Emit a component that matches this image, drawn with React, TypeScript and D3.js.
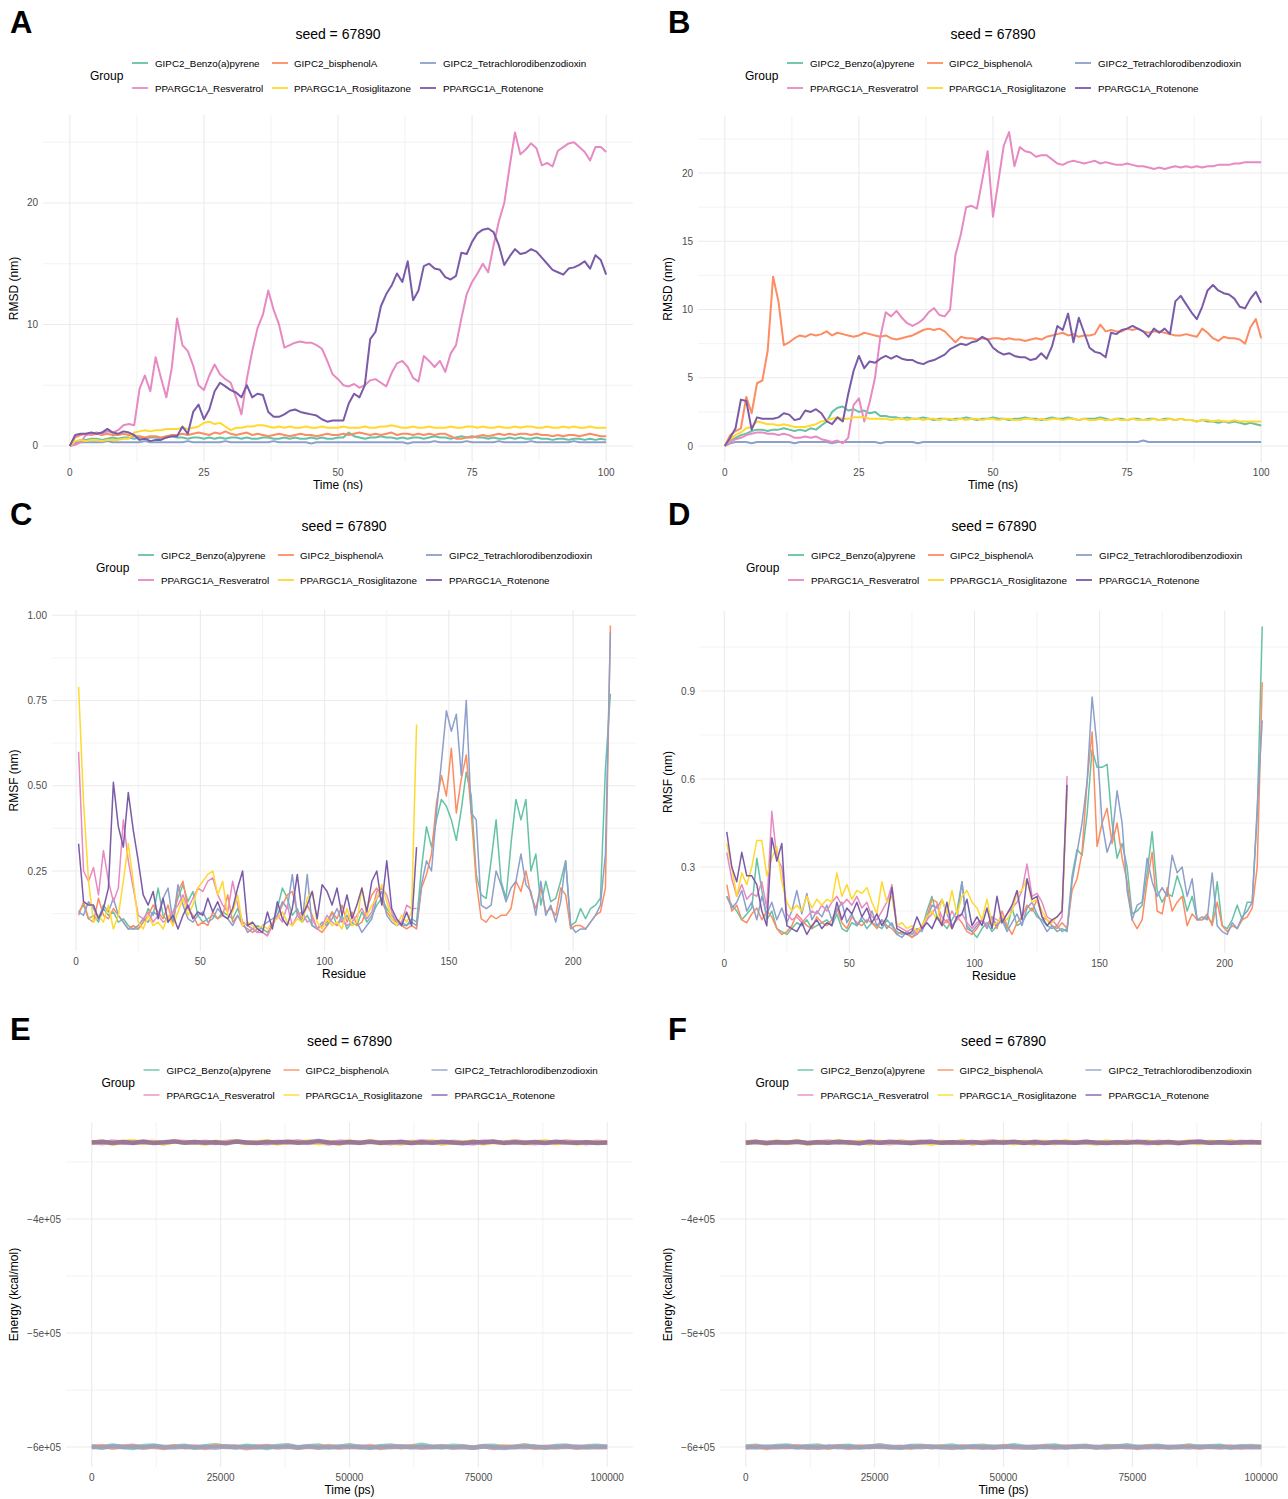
import React from "react";
import * as d3 from "d3";

const GROUPS = [
  "GIPC2_Benzo(a)pyrene",
  "GIPC2_bisphenolA",
  "GIPC2_Tetrachlorodibenzodioxin",
  "PPARGC1A_Resveratrol",
  "PPARGC1A_Rosiglitazone",
  "PPARGC1A_Rotenone",
];
const COLORS = ["#66C2A5", "#FC8D62", "#8DA0CB", "#E78AC3", "#FFD92F", "#7A5BA8"];

// sampling grids
const timeNs = d3.range(0, 101); // 1 ns step
const resGIPC2 = d3.range(1, 216, 2);
const resPPARG = d3.range(1, 138, 2);
const timePs = d3.range(0, 100001, 2000);

// ---------- panel A: RMSD ----------
const rmsdA_benzo = [
  0.0,0.3,0.5,0.5,0.6,0.6,0.5,0.6,0.7,0.6, 0.7,0.7,0.6,0.7,0.6,0.7,0.7,0.6,0.7,0.8,
  0.7,0.7,0.6,0.7,0.7,0.6,0.7,0.6,0.7,0.6, 0.7,0.7,0.6,0.7,0.6,0.6,0.7,0.7,0.6,0.6,
  0.7,0.6,0.7,0.6,0.6,0.7,0.6,0.7,0.6,0.6, 0.7,0.7,1.1,0.8,0.7,0.6,0.7,0.7,0.8,0.7,
  0.7,0.6,0.7,0.6,0.7,0.7,0.6,0.7,0.8,0.7, 0.7,0.6,0.7,0.8,0.7,0.8,0.7,0.7,0.6,0.7,
  0.6,0.6,0.7,0.6,0.7,0.6,0.6,0.7,0.6,0.6, 0.5,0.6,0.6,0.5,0.6,0.6,0.5,0.6,0.5,0.6,
  0.5,
];
const rmsdA_bisphenol = [
  0.0,0.7,0.9,1.0,0.9,1.0,0.9,1.0,0.9,0.9, 1.0,0.9,0.8,0.8,0.7,0.8,0.8,0.7,0.8,0.9,
  0.9,1.0,0.9,1.0,1.1,1.0,0.9,1.1,1.0,1.2, 1.0,0.9,1.0,1.1,0.9,1.0,0.9,0.8,0.9,1.0,
  0.9,0.8,0.9,1.0,0.9,0.9,0.8,0.9,1.0,0.9, 0.9,1.0,0.9,1.0,1.1,1.0,0.9,1.0,0.9,1.0,
  1.1,0.9,1.0,1.0,0.9,1.0,0.9,1.0,0.9,1.0, 1.0,0.8,0.6,0.6,0.7,0.7,0.8,0.9,0.8,0.9,
  1.0,0.9,1.0,0.9,1.0,1.0,0.9,1.0,0.9,0.9, 0.8,0.9,0.8,0.9,0.9,0.8,0.9,1.0,0.9,0.8,
  0.8,
];
const rmsdA_tetra = [
  0.0,0.2,0.3,0.3,0.3,0.3,0.3,0.4,0.3,0.3, 0.3,0.3,0.3,0.3,0.4,0.3,0.3,0.3,0.3,0.3,
  0.3,0.3,0.4,0.3,0.3,0.3,0.3,0.3,0.3,0.4, 0.3,0.3,0.3,0.3,0.3,0.3,0.3,0.3,0.4,0.3,
  0.3,0.3,0.3,0.3,0.3,0.2,0.3,0.3,0.3,0.3, 0.3,0.3,0.3,0.3,0.3,0.3,0.3,0.3,0.3,0.3,
  0.3,0.3,0.3,0.2,0.3,0.3,0.3,0.3,0.4,0.3, 0.3,0.3,0.3,0.3,0.4,0.3,0.3,0.3,0.3,0.3,
  0.4,0.3,0.3,0.3,0.3,0.3,0.4,0.3,0.3,0.3, 0.3,0.3,0.3,0.3,0.4,0.3,0.3,0.3,0.3,0.3,
  0.3,
];
const rmsdA_resveratrol = [
  0.0,0.1,0.3,0.9,1.0,1.1,1.0,1.2,1.1,1.3, 1.7,1.8,1.7,4.7,5.8,4.5,7.3,5.6,4.0,6.4,
  10.5,8.3,7.8,6.6,5.0,4.6,5.8,6.7,5.9,5.5, 5.2,4.0,2.6,5.5,7.8,9.7,10.8,12.8,11.2,10.0,
  8.1,8.3,8.5,8.6,8.5,8.5,8.3,8.0,7.0,5.9, 5.5,5.0,4.9,5.1,4.8,5.0,5.4,5.5,5.2,4.9,
  6.0,6.8,7.0,6.5,5.6,5.3,7.4,7.0,6.5,7.0, 6.1,7.6,8.3,10.5,12.5,13.5,14.2,15.0,14.3,16.5,
  18.5,20.0,23.0,25.8,24.0,24.4,24.9,24.5,23.1,23.3, 23.0,24.3,24.6,24.9,25.0,24.6,24.2,23.5,24.6,24.6,
  24.2,
];
const rmsdA_rosiglitazone = [
  0.0,0.4,0.5,0.4,0.5,0.5,0.4,0.5,0.5,0.5, 0.6,0.6,1.1,1.2,1.3,1.2,1.3,1.3,1.4,1.4,
  1.4,1.5,1.4,1.5,1.6,1.9,2.0,1.8,1.9,1.6, 1.3,1.5,1.5,1.6,1.6,1.7,1.7,1.6,1.5,1.6,
  1.5,1.6,1.5,1.5,1.6,1.5,1.5,1.6,1.5,1.5, 1.5,1.6,1.5,1.5,1.5,1.6,1.5,1.5,1.6,1.6,
  1.7,1.6,1.5,1.5,1.6,1.5,1.5,1.6,1.5,1.5, 1.5,1.6,1.5,1.5,1.6,1.6,1.5,1.6,1.5,1.5,
  1.6,1.5,1.5,1.6,1.5,1.6,1.6,1.5,1.5,1.6, 1.5,1.5,1.6,1.5,1.6,1.5,1.5,1.6,1.5,1.5,
  1.5,
];
const rmsdA_rotenone = [
  0.0,0.9,1.0,1.0,1.1,1.0,1.1,1.4,1.1,1.0, 1.2,1.1,0.9,0.5,0.6,0.4,0.5,0.5,0.7,0.8,
  0.8,1.6,1.0,2.8,3.4,2.2,3.0,4.5,5.2,4.9, 4.6,4.4,4.0,5.0,4.0,4.3,4.2,2.8,2.4,2.4,
  2.6,2.9,3.0,2.8,2.7,2.6,2.5,2.2,2.0,2.1, 2.1,2.1,3.5,4.3,4.0,5.0,8.8,9.4,11.5,12.5,
  13.2,14.2,13.5,15.2,12.0,12.8,14.8,15.0,14.6,14.5, 13.9,13.7,14.0,15.9,15.8,16.8,17.5,17.8,17.9,17.6,
  16.5,14.9,15.6,16.2,15.8,15.9,16.2,16.0,15.5,15.0, 14.5,14.3,14.1,14.6,14.7,14.9,15.2,14.6,15.7,15.3,
  14.1,
];

// ---------- panel B: RMSD ----------
const rmsdB_benzo = [
  0.0,0.4,0.6,0.8,0.9,1.1,1.2,1.2,1.1,1.2, 1.2,1.3,1.2,1.1,1.2,1.1,1.3,1.2,1.5,1.8,
  2.5,2.8,2.9,2.6,2.7,2.5,2.6,2.4,2.5,2.2, 2.2,2.1,2.1,2.0,2.1,2.0,2.0,2.1,2.0,1.9,
  2.0,2.0,1.9,2.0,2.0,2.1,2.0,1.9,2.0,2.0, 2.1,2.0,2.0,1.9,2.0,2.0,2.1,2.0,2.0,1.9,
  2.0,2.1,2.0,2.0,2.1,2.0,1.9,2.0,2.0,2.0, 2.1,2.0,1.9,2.0,2.0,1.9,2.0,2.0,1.9,2.0,
  2.0,1.9,2.0,2.0,1.9,2.0,1.9,1.9,1.8,1.9, 1.8,1.8,1.7,1.8,1.7,1.8,1.7,1.6,1.7,1.6,
  1.5,
];
const rmsdB_bisphenol = [
  0.0,0.8,1.1,1.3,3.6,2.4,4.6,4.8,7.0,12.4, 10.6,7.4,7.6,7.9,8.1,8.0,8.2,8.1,8.2,8.4,
  8.1,8.3,8.2,8.1,8.0,8.1,8.3,8.2,8.1,8.0, 8.1,7.9,7.8,7.9,8.0,8.1,8.3,8.5,8.6,8.5,
  8.6,8.4,8.0,7.6,8.0,7.9,7.9,7.8,7.9,7.8, 7.9,7.9,7.8,7.9,7.8,7.8,7.7,7.8,7.9,7.8,
  8.0,8.1,8.2,8.3,8.1,8.2,8.0,8.1,8.1,8.2, 8.9,8.4,8.5,8.4,8.4,8.6,8.5,8.6,8.4,8.3,
  8.4,8.4,8.3,8.2,8.1,8.1,8.2,8.1,8.0,8.6, 8.3,7.9,7.7,8.0,7.9,7.9,7.8,7.5,8.7,9.3,
  7.9,
];
const rmsdB_tetra = [
  0.0,0.2,0.3,0.3,0.3,0.2,0.3,0.3,0.3,0.3, 0.3,0.3,0.3,0.2,0.3,0.3,0.3,0.3,0.3,0.3,
  0.2,0.3,0.3,0.3,0.3,0.3,0.3,0.3,0.3,0.2, 0.3,0.3,0.3,0.3,0.3,0.3,0.2,0.3,0.3,0.3,
  0.3,0.3,0.3,0.3,0.3,0.3,0.3,0.3,0.3,0.3, 0.3,0.3,0.3,0.3,0.3,0.3,0.3,0.3,0.3,0.3,
  0.3,0.3,0.3,0.3,0.3,0.3,0.3,0.3,0.3,0.3, 0.3,0.3,0.3,0.3,0.3,0.3,0.3,0.3,0.4,0.3,
  0.3,0.3,0.3,0.3,0.3,0.3,0.3,0.3,0.3,0.3, 0.3,0.3,0.3,0.3,0.3,0.3,0.3,0.3,0.3,0.3,
  0.3,
];
const rmsdB_resveratrol = [
  0.0,0.3,0.5,0.6,0.8,0.9,1.0,1.0,0.9,0.9, 0.8,0.9,0.8,0.6,0.6,0.7,0.6,0.7,0.5,0.4,
  0.3,0.4,0.2,0.6,3.0,3.5,1.8,3.2,5.0,8.0, 9.8,9.5,9.9,9.4,9.0,8.8,9.0,9.3,9.8,10.1,
  9.6,9.5,10.0,14.0,15.5,17.5,17.6,17.4,19.5,21.6, 16.8,19.4,22.0,23.0,20.5,21.9,21.6,21.5,21.2,21.3,
  21.3,21.0,20.7,20.6,20.8,20.9,20.8,20.7,20.8,20.9, 20.7,20.8,20.7,20.6,20.6,20.7,20.6,20.5,20.5,20.4,
  20.3,20.4,20.3,20.4,20.5,20.4,20.5,20.4,20.5,20.4, 20.5,20.5,20.6,20.6,20.6,20.7,20.7,20.8,20.8,20.8,
  20.8,
];
const rmsdB_rosiglitazone = [
  0.0,0.5,0.8,1.0,1.3,1.4,1.8,1.7,1.6,1.6, 1.5,1.6,1.5,1.4,1.4,1.4,1.5,1.6,1.8,1.9,
  2.0,2.1,2.0,2.0,2.1,2.1,2.1,2.0,2.0,2.0, 2.0,1.9,2.0,2.0,1.9,2.0,2.0,1.9,2.0,2.0,
  1.9,2.0,2.0,1.9,2.0,1.9,2.0,2.0,1.9,2.0, 2.0,1.9,2.0,2.0,1.9,1.9,2.0,2.0,1.9,2.0,
  1.9,2.0,2.0,1.9,2.0,2.0,1.9,2.0,1.9,1.9, 2.0,1.9,1.9,2.0,1.9,1.9,2.0,1.9,1.9,1.9,
  2.0,1.9,1.9,2.0,1.9,2.0,1.9,1.9,1.8,1.9, 1.9,1.8,1.9,1.8,1.8,1.9,1.8,1.8,1.8,1.8,
  1.8,
];
const rmsdB_rotenone = [
  0.0,0.6,1.3,3.4,3.3,1.2,2.1,2.0,2.0,2.0, 2.1,2.4,2.3,1.9,2.0,2.6,2.5,2.7,2.4,1.8,
  1.6,2.1,1.8,3.8,5.5,6.6,5.7,6.2,6.1,6.4, 6.6,6.4,6.6,6.4,6.3,6.3,6.1,6.0,6.2,6.3,
  6.5,6.7,7.1,7.3,7.5,7.4,7.6,7.7,8.0,7.8, 7.2,6.9,6.7,6.8,6.6,6.5,6.5,6.3,6.4,6.8,
  6.4,7.3,8.8,8.5,9.7,7.6,9.4,8.3,7.2,6.9, 6.8,6.5,8.3,8.2,8.5,8.6,8.8,8.6,8.4,8.0,
  8.6,8.3,8.6,8.2,10.6,11.0,10.4,9.8,9.3,10.2, 11.4,11.8,11.4,11.2,11.1,10.8,10.2,10.1,10.8,11.3,
  10.5,
];

// ---------- panel C: RMSF ----------
const rmsfC_benzo = [
  0.13,0.15,0.11,0.12,0.10,0.14,0.12,0.13,0.10,0.11,0.09,0.08,0.08,0.10,0.14,0.12,0.20,0.12,0.10,0.13,
  0.17,0.21,0.16,0.19,0.12,0.10,0.11,0.12,0.11,0.13,0.12,0.11,0.14,0.10,0.09,0.08,0.09,0.08,0.07,0.09,
  0.14,0.20,0.17,0.12,0.14,0.10,0.12,0.09,0.08,0.09,0.10,0.13,0.09,0.12,0.08,0.10,0.09,0.13,0.10,0.12,
  0.15,0.17,0.14,0.12,0.10,0.09,0.09,0.11,0.10,0.26,
  0.38,0.32,0.40,0.46,0.44,0.40,0.34,0.43,0.54,0.47,0.24,0.18,0.17,0.28,0.40,0.22,0.17,0.33,0.46,0.40,
  0.46,0.25,0.30,0.15,0.22,0.16,0.17,0.22,0.28,0.09,0.10,0.14,0.11,0.14,0.15,0.17,0.55,0.77,
];
const rmsfC_bisphenol = [
  0.12,0.16,0.11,0.10,0.17,0.12,0.11,0.14,0.12,0.10,0.08,0.09,0.08,0.10,0.12,0.15,0.13,0.11,0.15,0.09,
  0.19,0.22,0.14,0.12,0.09,0.10,0.09,0.13,0.11,0.12,0.18,0.10,0.12,0.09,0.08,0.07,0.08,0.07,0.06,0.10,
  0.12,0.15,0.18,0.19,0.13,0.11,0.15,0.12,0.08,0.07,0.09,0.13,0.11,0.15,0.10,0.13,0.09,0.10,0.14,0.18,
  0.20,0.16,0.13,0.11,0.10,0.09,0.08,0.09,0.08,0.20,
  0.24,0.30,0.45,0.53,0.47,0.61,0.42,0.52,0.59,0.42,0.22,0.11,0.10,0.12,0.11,0.12,0.12,0.14,0.22,0.19,
  0.25,0.18,0.14,0.20,0.13,0.14,0.12,0.20,0.18,0.08,0.09,0.09,0.08,0.10,0.12,0.13,0.20,0.97,
];
const rmsfC_tetra = [
  0.13,0.12,0.16,0.14,0.11,0.15,0.13,0.17,0.12,0.10,0.08,0.08,0.09,0.11,0.10,0.13,0.12,0.17,0.20,0.10,
  0.21,0.15,0.11,0.10,0.12,0.13,0.10,0.11,0.14,0.12,0.11,0.09,0.12,0.10,0.07,0.08,0.07,0.09,0.10,0.11,
  0.12,0.16,0.14,0.24,0.12,0.10,0.24,0.09,0.08,0.10,0.09,0.11,0.14,0.10,0.12,0.09,0.10,0.07,0.09,0.11,
  0.17,0.19,0.12,0.10,0.09,0.10,0.09,0.10,0.09,0.21,
  0.28,0.25,0.42,0.57,0.72,0.66,0.71,0.53,0.75,0.42,0.40,0.15,0.14,0.15,0.25,0.21,0.16,0.20,0.22,0.30,
  0.21,0.19,0.12,0.22,0.12,0.15,0.10,0.16,0.28,0.09,0.07,0.08,0.08,0.10,0.12,0.15,0.30,0.95,
];
const rmsfC_resveratrol = [
  0.60,0.25,0.22,0.26,0.18,0.31,0.22,0.16,0.20,0.40,0.28,0.20,0.12,0.11,0.13,0.10,0.12,0.10,0.11,0.13,
  0.15,0.18,0.14,0.17,0.20,0.19,0.22,0.23,0.18,0.15,0.13,0.22,0.15,0.10,0.09,0.08,0.07,0.07,0.06,0.09,
  0.12,0.10,0.15,0.09,0.12,0.13,0.10,0.11,0.08,0.09,0.12,0.10,0.09,0.11,0.09,0.10,0.12,0.14,0.11,0.13,
  0.19,0.20,0.18,0.13,0.10,0.10,0.15,0.14,0.14,
];
const rmsfC_rosiglitazone = [
  0.79,0.45,0.22,0.10,0.12,0.10,0.15,0.08,0.12,0.22,0.33,0.22,0.10,0.08,0.12,0.09,0.10,0.08,0.12,0.09,
  0.13,0.17,0.12,0.15,0.20,0.22,0.24,0.25,0.18,0.22,0.12,0.13,0.18,0.09,0.10,0.09,0.08,0.09,0.08,0.10,
  0.11,0.13,0.10,0.09,0.11,0.10,0.17,0.19,0.10,0.08,0.11,0.09,0.10,0.08,0.14,0.09,0.10,0.20,0.12,0.15,
  0.17,0.21,0.16,0.11,0.09,0.12,0.10,0.13,0.68,
];
const rmsfC_rotenone = [
  0.33,0.16,0.15,0.15,0.11,0.14,0.20,0.51,0.38,0.32,0.48,0.37,0.28,0.18,0.15,0.19,0.11,0.17,0.10,0.12,
  0.08,0.12,0.15,0.11,0.13,0.12,0.17,0.13,0.16,0.12,0.11,0.14,0.20,0.25,0.09,0.10,0.08,0.07,0.13,0.08,
  0.16,0.11,0.09,0.14,0.24,0.12,0.15,0.19,0.11,0.21,0.19,0.15,0.20,0.12,0.18,0.11,0.15,0.20,0.13,0.22,
  0.25,0.15,0.28,0.14,0.11,0.09,0.13,0.09,0.32,
];

// ---------- panel D: RMSF ----------
const rmsfD_benzo = [
  0.20,0.17,0.15,0.12,0.14,0.16,0.33,0.22,0.12,0.15,0.09,0.08,0.07,0.09,0.11,0.10,0.12,0.09,0.10,0.11,
  0.12,0.10,0.14,0.09,0.08,0.11,0.10,0.12,0.09,0.11,0.10,0.09,0.12,0.10,0.08,0.07,0.08,0.06,0.07,0.09,
  0.15,0.20,0.13,0.11,0.09,0.12,0.15,0.25,0.10,0.08,0.06,0.09,0.11,0.08,0.10,0.13,0.09,0.16,0.10,0.11,
  0.14,0.16,0.13,0.12,0.10,0.09,0.10,0.08,0.09,0.27,
  0.36,0.34,0.48,0.70,0.64,0.64,0.65,0.45,0.33,0.38,0.30,0.14,0.15,0.17,0.28,0.42,0.22,0.18,0.21,0.20,
  0.27,0.22,0.15,0.20,0.12,0.12,0.13,0.11,0.25,0.10,0.09,0.12,0.17,0.12,0.18,0.18,0.48,1.12,
];
const rmsfD_bisphenol = [
  0.24,0.15,0.17,0.12,0.11,0.14,0.16,0.12,0.15,0.13,0.09,0.07,0.08,0.10,0.14,0.12,0.10,0.09,0.13,0.11,
  0.10,0.12,0.16,0.11,0.09,0.13,0.11,0.10,0.12,0.11,0.09,0.12,0.10,0.09,0.07,0.08,0.07,0.06,0.08,0.10,
  0.13,0.19,0.18,0.10,0.12,0.09,0.13,0.11,0.08,0.07,0.09,0.12,0.10,0.13,0.09,0.15,0.10,0.07,0.11,0.13,
  0.17,0.15,0.19,0.13,0.12,0.10,0.09,0.11,0.09,0.22,
  0.26,0.35,0.59,0.76,0.37,0.45,0.50,0.38,0.45,0.33,0.25,0.12,0.09,0.12,0.25,0.35,0.15,0.14,0.23,0.15,
  0.18,0.20,0.10,0.14,0.12,0.12,0.14,0.10,0.18,0.10,0.08,0.10,0.09,0.12,0.13,0.16,0.30,0.93,
];
const rmsfD_tetra = [
  0.20,0.16,0.18,0.22,0.15,0.18,0.12,0.20,0.14,0.18,0.12,0.16,0.11,0.15,0.22,0.14,0.21,0.12,0.15,0.13,
  0.17,0.12,0.15,0.18,0.11,0.14,0.10,0.13,0.11,0.15,0.10,0.12,0.09,0.11,0.07,0.06,0.08,0.07,0.09,0.08,
  0.12,0.17,0.16,0.19,0.14,0.10,0.12,0.25,0.09,0.08,0.10,0.12,0.09,0.13,0.10,0.12,0.08,0.11,0.14,0.10,
  0.16,0.18,0.14,0.11,0.08,0.10,0.08,0.09,0.08,0.25,
  0.35,0.45,0.59,0.88,0.71,0.45,0.35,0.40,0.56,0.45,0.22,0.12,0.17,0.18,0.33,0.25,0.20,0.23,0.20,0.34,
  0.28,0.30,0.20,0.26,0.12,0.13,0.12,0.28,0.10,0.08,0.07,0.11,0.09,0.13,0.15,0.18,0.50,0.80,
];
const rmsfD_resveratrol = [
  0.35,0.26,0.20,0.24,0.19,0.21,0.20,0.25,0.16,0.49,0.33,0.30,0.14,0.12,0.13,0.11,0.13,0.15,0.14,0.17,
  0.15,0.18,0.20,0.17,0.19,0.17,0.20,0.16,0.18,0.13,0.12,0.15,0.18,0.24,0.10,0.09,0.08,0.09,0.07,0.09,
  0.12,0.14,0.17,0.13,0.11,0.15,0.12,0.14,0.11,0.09,0.11,0.12,0.10,0.13,0.12,0.11,0.14,0.16,0.18,0.22,
  0.31,0.20,0.21,0.18,0.13,0.12,0.10,0.13,0.61,
];
const rmsfD_rosiglitazone = [
  0.38,0.30,0.20,0.28,0.24,0.30,0.39,0.39,0.27,0.33,0.37,0.25,0.18,0.15,0.17,0.15,0.20,0.16,0.19,0.17,
  0.19,0.18,0.28,0.20,0.24,0.19,0.22,0.21,0.23,0.18,0.14,0.25,0.18,0.20,0.10,0.11,0.09,0.10,0.08,0.10,
  0.13,0.15,0.12,0.19,0.14,0.22,0.14,0.20,0.22,0.18,0.16,0.12,0.19,0.10,0.11,0.13,0.12,0.15,0.21,0.22,
  0.26,0.18,0.19,0.15,0.12,0.11,0.13,0.15,0.55,
];
const rmsfD_rotenone = [
  0.42,0.30,0.25,0.35,0.27,0.27,0.24,0.15,0.10,0.40,0.32,0.38,0.10,0.09,0.08,0.11,0.07,0.10,0.12,0.09,
  0.11,0.10,0.18,0.12,0.16,0.14,0.18,0.13,0.16,0.11,0.14,0.10,0.13,0.23,0.09,0.08,0.07,0.08,0.13,0.09,
  0.11,0.09,0.13,0.10,0.18,0.09,0.13,0.14,0.19,0.10,0.13,0.10,0.16,0.09,0.20,0.11,0.14,0.17,0.22,0.12,
  0.26,0.19,0.20,0.13,0.10,0.12,0.13,0.15,0.58,
];

// ---------- panel E: Energy ----------
const energyE_benzo = [
  -599200,-600400,-598700,-599900,-600800,-599100,-598600,-600200,-599500,-598900,
  -600600,-599300,-598400,-599800,-600300,-598800,-599600,-600900,-599000,-598500,
  -600100,-599400,-598700,-600500,-599700,-598300,-599900,-600700,-599200,-598600,
  -600000,-599500,-597900,-599800,-600400,-598900,-599300,-600600,-599100,-598800,
  -600200,-599700,-598500,-599900,-600500,-599000,-598700,-600300,-599400,-598900,
  -599800,
];
const energyE_bisphenol = [
  -600100,-599000,-600700,-599500,-598900,-600400,-599800,-600900,-599200,-600300,
  -599600,-600800,-599100,-600000,-599400,-601000,-599700,-599000,-600500,-599300,
  -600600,-599800,-600200,-599100,-600700,-599600,-600400,-599000,-600800,-599500,
  -600100,-599300,-600600,-599900,-599200,-600500,-599700,-600300,-599400,-600900,
  -599600,-600200,-599100,-600700,-599800,-600400,-599300,-600600,-599700,-600100,
  -599900,
];
const energyE_tetra = [
  -599700,-600300,-599400,-600000,-599600,-600400,-599200,-599900,-600500,-599500,
  -600200,-599800,-600600,-599300,-600100,-599700,-600400,-599500,-600000,-599800,
  -600300,-599400,-600700,-599900,-599600,-600200,-599500,-600400,-599800,-600100,
  -599300,-600500,-599700,-600000,-599500,-600300,-599900,-600600,-599600,-600200,
  -600800,-599700,-600100,-599400,-600300,-599800,-600000,-599600,-600400,-599700,
  -600000,
];
const energyE_resveratrol = [
  -332600,-333500,-332000,-332900,-333300,-332200,-332700,-333600,-331900,-332500,
  -333200,-332100,-333400,-332400,-331800,-333100,-332800,-333500,-332200,-332900,
  -331700,-333300,-332600,-333700,-332100,-332700,-333400,-331900,-332800,-333600,
  -332300,-333000,-331800,-332600,-333500,-332200,-332900,-333700,-332000,-332500,
  -333300,-331700,-332800,-333600,-332400,-333100,-332000,-332700,-333500,-332300,
  -332900,
];
const energyE_rosiglitazone = [
  -333200,-332000,-333900,-332500,-331600,-333400,-332200,-333800,-331900,-333000,
  -332400,-334000,-332100,-333300,-331700,-333600,-332600,-331800,-333700,-332300,
  -333100,-331900,-333500,-332400,-334100,-332000,-333200,-331800,-333600,-332500,
  -333900,-332200,-333300,-331700,-333700,-332600,-333000,-331900,-333800,-332300,
  -333400,-332000,-333600,-332700,-331800,-333500,-332200,-333900,-332400,-333100,
  -332800,
];
const energyE_rotenone = [
  -332900,-332300,-333400,-332500,-333100,-332200,-333300,-332600,-331900,-333200,
  -332400,-333000,-332700,-333500,-332100,-332800,-333300,-332400,-332900,-332200,
  -333100,-332600,-331600,-332900,-333400,-332500,-333000,-332300,-333200,-332700,
  -332400,-333300,-332600,-333000,-332200,-332800,-333500,-332400,-332900,-332100,
  -333200,-332700,-333100,-332500,-333400,-332300,-332900,-333100,-332600,-333300,
  -332900,
];

// ---------- panel F: Energy ----------
const energyF_benzo = [
  -599500,-598800,-600300,-599100,-598600,-600000,-599400,-598700,-600500,-599200,
  -598900,-600200,-599600,-598500,-599900,-600700,-599000,-598800,-600100,-599500,
  -598600,-600400,-599300,-598900,-600000,-599700,-598400,-599800,-600600,-599100,
  -598700,-600200,-599400,-598800,-600500,-599000,-599600,-598500,-600100,-599300,
  -598900,-600400,-599700,-598600,-600000,-599200,-598800,-600300,-599500,-599000,
  -599700,
];
const energyF_bisphenol = [
  -600300,-599400,-600800,-599700,-600100,-599200,-600600,-599900,-600400,-599300,
  -600900,-599600,-600200,-599000,-600500,-599800,-600700,-599400,-600000,-599500,
  -600800,-599300,-600300,-599700,-600600,-599100,-600400,-599900,-600100,-599400,
  -600700,-599600,-600200,-599200,-600500,-599800,-600000,-599500,-600900,-599300,
  -600400,-599700,-600100,-599200,-600600,-599600,-600300,-599400,-600700,-599800,
  -600100,
];
const energyF_tetra = [
  -599900,-600400,-599600,-600200,-599500,-600300,-599800,-600600,-599400,-600100,
  -599700,-600500,-599500,-600000,-599800,-600300,-599600,-600200,-599400,-600400,
  -599900,-600100,-599500,-600600,-599700,-600000,-599600,-600300,-599500,-600200,
  -599800,-600400,-599600,-600000,-599700,-600500,-599400,-600100,-599800,-600300,
  -599500,-600200,-599700,-600400,-599600,-600000,-599800,-600300,-599500,-600100,
  -599900,
];
const energyF_resveratrol = [
  -332800,-332100,-333400,-332400,-333000,-332200,-333500,-332600,-331900,-333100,
  -332500,-333300,-332000,-332800,-333600,-332300,-332900,-332100,-333400,-332600,
  -333000,-332200,-333500,-332400,-331800,-333200,-332700,-333400,-332100,-332900,
  -333300,-332400,-332800,-332000,-333500,-332600,-333100,-332300,-332900,-333600,
  -332200,-332800,-333300,-332500,-332000,-333200,-332700,-333400,-332300,-332900,
  -332800,
];
const energyF_rosiglitazone = [
  -333400,-332200,-333700,-332000,-333300,-331800,-333900,-332400,-333100,-331700,
  -333600,-332300,-333800,-332100,-333200,-331900,-333500,-332600,-334000,-332200,
  -333300,-331800,-333700,-332500,-333000,-331900,-333600,-332300,-333900,-332100,
  -333400,-331800,-333200,-332600,-333800,-332000,-333500,-332200,-333100,-331900,
  -333700,-332400,-333300,-332000,-333600,-332300,-333000,-331800,-333500,-332400,
  -333000,
];
const energyF_rotenone = [
  -333000,-332400,-333300,-332600,-332900,-332200,-333400,-332700,-333100,-332300,
  -332800,-333500,-332500,-333000,-332200,-332900,-333300,-332600,-332100,-333200,
  -332700,-333000,-332400,-333400,-332600,-332900,-332300,-333100,-332700,-333300,
  -332500,-332900,-333200,-332400,-332800,-333400,-332600,-333000,-332300,-332900,
  -333100,-332500,-333300,-332700,-332200,-333000,-332600,-333200,-332800,-332400,
  -332900,
];

// ---------- layout ----------
const FONT = "'Liberation Sans', Arial, Helvetica, sans-serif";
const GRID = "#EBEBEB";

type Series = { x: number[]; y: number[] };
type Rect = { left: number; right: number; top: number; bottom: number };

type PanelProps = {
  tag: string;
  tagX: number;
  rowTop: number;
  yTitleX: number;
  plot: Rect;
  xDomain: [number, number];
  yDomain: [number, number];
  xMajor: number[];
  xMinor: number[];
  yMajor: number[];
  yMinor: number[];
  xFmt: (v: number) => string;
  yFmt: (v: number) => string;
  xTitle: string;
  yTitle: string;
  series: Series[];
  lineWidth: number;
  opacity: number;
};

const Panel = (p: PanelProps) => {
  const xs = d3.scaleLinear().domain(p.xDomain).range([p.plot.left, p.plot.right]);
  const ys = d3.scaleLinear().domain(p.yDomain).range([p.plot.bottom, p.plot.top]);
  const cx = (p.plot.left + p.plot.right) / 2;
  const cy = (p.plot.top + p.plot.bottom) / 2;
  const legLeft = cx - 248;
  const keyOff = [42, 182, 330];
  const textOff = [65, 204, 353];
  const rowY = [p.rowTop + 63, p.rowTop + 88];

  return (
    <g fontFamily={FONT}>
      <text x={p.tagX} y={p.rowTop + 33} fontSize={31} fontWeight="bold" fill="#000">
        {p.tag}
      </text>
      <text x={cx} y={p.rowTop + 39} fontSize={14} textAnchor="middle" fill="#000">
        seed = 67890
      </text>

      {/* legend */}
      <text x={legLeft} y={p.rowTop + 80} fontSize={12} fill="#000">
        Group
      </text>
      {GROUPS.map((g, i) => {
        const col = i % 3;
        const row = Math.floor(i / 3);
        const y = rowY[row];
        return (
          <g key={g}>
            <line
              x1={legLeft + keyOff[col]}
              x2={legLeft + keyOff[col] + 16}
              y1={y}
              y2={y}
              stroke={COLORS[i]}
              strokeWidth={1.8}
              strokeOpacity={p.opacity}
            />
            <text x={legLeft + textOff[col]} y={y + 3.5} fontSize={9.8} fill="#000">
              {g}
            </text>
          </g>
        );
      })}

      {/* grid */}
      {p.yMinor.map((v) => (
        <line key={"ym" + v} x1={p.plot.left} x2={p.plot.right} y1={ys(v)} y2={ys(v)} stroke={GRID} strokeWidth={0.6} />
      ))}
      {p.xMinor.map((v) => (
        <line key={"xm" + v} x1={xs(v)} x2={xs(v)} y1={p.plot.top} y2={p.plot.bottom} stroke={GRID} strokeWidth={0.6} />
      ))}
      {p.yMajor.map((v) => (
        <line key={"yM" + v} x1={p.plot.left} x2={p.plot.right} y1={ys(v)} y2={ys(v)} stroke={GRID} strokeWidth={1.1} />
      ))}
      {p.xMajor.map((v) => (
        <line key={"xM" + v} x1={xs(v)} x2={xs(v)} y1={p.plot.top} y2={p.plot.bottom} stroke={GRID} strokeWidth={1.1} />
      ))}

      {/* data */}
      {p.series.map((s, i) => {
        const line = d3
          .line<number>()
          .x((_, j) => xs(s.x[j]))
          .y((d) => ys(d));
        return (
          <path
            key={"s" + i}
            d={line(s.y) || ""}
            fill="none"
            stroke={COLORS[i]}
            strokeWidth={p.lineWidth}
            strokeOpacity={p.opacity}
            strokeLinejoin="round"
          />
        );
      })}

      {/* axes text */}
      {p.yMajor.map((v) => (
        <text key={"yl" + v} x={p.plot.left - 5} y={ys(v) + 3.5} fontSize={10} textAnchor="end" fill="#4D4D4D">
          {p.yFmt(v)}
        </text>
      ))}
      {p.xMajor.map((v) => (
        <text key={"xl" + v} x={xs(v)} y={p.plot.bottom + 14} fontSize={10} textAnchor="middle" fill="#4D4D4D">
          {p.xFmt(v)}
        </text>
      ))}
      <text x={cx} y={p.plot.bottom + 27} fontSize={12} textAnchor="middle" fill="#000">
        {p.xTitle}
      </text>
      <text
        transform={`translate(${p.yTitleX + 4},${cy}) rotate(-90)`}
        fontSize={12}
        textAnchor="middle"
        fill="#000"
      >
        {p.yTitle}
      </text>
    </g>
  );
};

const num = (v: number) => String(v);
const sci = (v: number) => (v < 0 ? "\u2212" : "") + Math.abs(v / 1e5) + "e+05";

const rmsdSeries = (arrs: number[][]) => arrs.map((y) => ({ x: timeNs, y }));
const rmsfSeries = (arrs: number[][]) => arrs.map((y, i) => ({ x: i < 3 ? resGIPC2 : resPPARG, y }));
const energySeries = (arrs: number[][]) => arrs.map((y) => ({ x: timePs, y }));

const App = () => {
  const rowTops = [0, 492, 1007];
  const leftCol = { tagX: 10, yTitleX: 14 };
  const rightCol = { tagX: 668, yTitleX: 668 };

  const rmsdX = { xDomain: [-5, 105] as [number, number], xMajor: [0, 25, 50, 75, 100], xMinor: [12.5, 37.5, 62.5, 87.5] };
  const rmsfX = { xDomain: [-9.7, 225.3] as [number, number], xMajor: [0, 50, 100, 150, 200], xMinor: [25, 75, 125, 175] };
  const enX = {
    xDomain: [-5000, 105000] as [number, number],
    xMajor: [0, 25000, 50000, 75000, 100000],
    xMinor: [12500, 37500, 62500, 87500],
  };
  const enY = {
    yDomain: [-617500, -314900] as [number, number],
    yMajor: [-600000, -500000, -400000],
    yMinor: [-550000, -450000, -350000],
  };

  return (
    <div style={{ position: "absolute", left: 0, top: 0, width: 1288, height: 1499, background: "#fff" }}>
      <svg width={1288} height={1499} viewBox="0 0 1288 1499">
        <rect width={1288} height={1499} fill="#fff" />
        <Panel
          tag="A" rowTop={rowTops[0]} {...leftCol}
          plot={{ left: 43, right: 633, top: 115, bottom: 462 }}
          {...rmsdX}
          yDomain={[-1.32, 27.24]} yMajor={[0, 10, 20]} yMinor={[5, 15, 25]}
          xFmt={num} yFmt={num} xTitle="Time (ns)" yTitle="RMSD (nm)"
          series={rmsdSeries([rmsdA_benzo, rmsdA_bisphenol, rmsdA_tetra, rmsdA_resveratrol, rmsdA_rosiglitazone, rmsdA_rotenone])}
          lineWidth={2} opacity={1}
        />
        <Panel
          tag="B" rowTop={rowTops[0]} {...rightCol}
          plot={{ left: 698, right: 1288, top: 116, bottom: 462 }}
          {...rmsdX}
          yDomain={[-1.17, 24.18]} yMajor={[0, 5, 10, 15, 20]} yMinor={[2.5, 7.5, 12.5, 17.5, 22.5]}
          xFmt={num} yFmt={num} xTitle="Time (ns)" yTitle="RMSD (nm)"
          series={rmsdSeries([rmsdB_benzo, rmsdB_bisphenol, rmsdB_tetra, rmsdB_resveratrol, rmsdB_rosiglitazone, rmsdB_rotenone])}
          lineWidth={2} opacity={1}
        />
        <Panel
          tag="C" rowTop={rowTops[1]} {...leftCol}
          plot={{ left: 52, right: 636, top: 610, bottom: 951 }}
          {...rmsfX}
          yDomain={[0.0154, 1.0155]} yMajor={[0.25, 0.5, 0.75, 1.0]} yMinor={[0.125, 0.375, 0.625, 0.875]}
          xFmt={num} yFmt={d3.format(".2f")} xTitle="Residue" yTitle="RMSF (nm)"
          series={rmsfSeries([rmsfC_benzo, rmsfC_bisphenol, rmsfC_tetra, rmsfC_resveratrol, rmsfC_rosiglitazone, rmsfC_rotenone])}
          lineWidth={1.5} opacity={1}
        />
        <Panel
          tag="D" rowTop={rowTops[1]} {...rightCol}
          plot={{ left: 700, right: 1288, top: 611, bottom: 953 }}
          {...rmsfX}
          yDomain={[0.0068, 1.173]} yMajor={[0.3, 0.6, 0.9]} yMinor={[0.15, 0.45, 0.75, 1.05]}
          xFmt={num} yFmt={d3.format(".1f")} xTitle="Residue" yTitle="RMSF (nm)"
          series={rmsfSeries([rmsfD_benzo, rmsfD_bisphenol, rmsfD_tetra, rmsfD_resveratrol, rmsfD_rosiglitazone, rmsfD_rotenone])}
          lineWidth={1.5} opacity={1}
        />
        <Panel
          tag="E" rowTop={rowTops[2]} {...leftCol}
          plot={{ left: 66, right: 633, top: 1122, bottom: 1467 }}
          {...enX} {...enY}
          xFmt={num} yFmt={sci} xTitle="Time (ps)" yTitle="Energy (kcal/mol)"
          series={energySeries([energyE_benzo, energyE_bisphenol, energyE_tetra, energyE_resveratrol, energyE_rosiglitazone, energyE_rotenone])}
          lineWidth={4.5} opacity={0.75}
        />
        <Panel
          tag="F" rowTop={rowTops[2]} {...rightCol}
          plot={{ left: 720, right: 1287, top: 1122, bottom: 1467 }}
          {...enX} {...enY}
          xFmt={num} yFmt={sci} xTitle="Time (ps)" yTitle="Energy (kcal/mol)"
          series={energySeries([energyF_benzo, energyF_bisphenol, energyF_tetra, energyF_resveratrol, energyF_rosiglitazone, energyF_rotenone])}
          lineWidth={4.5} opacity={0.75}
        />
      </svg>
    </div>
  );
};

export default App;
